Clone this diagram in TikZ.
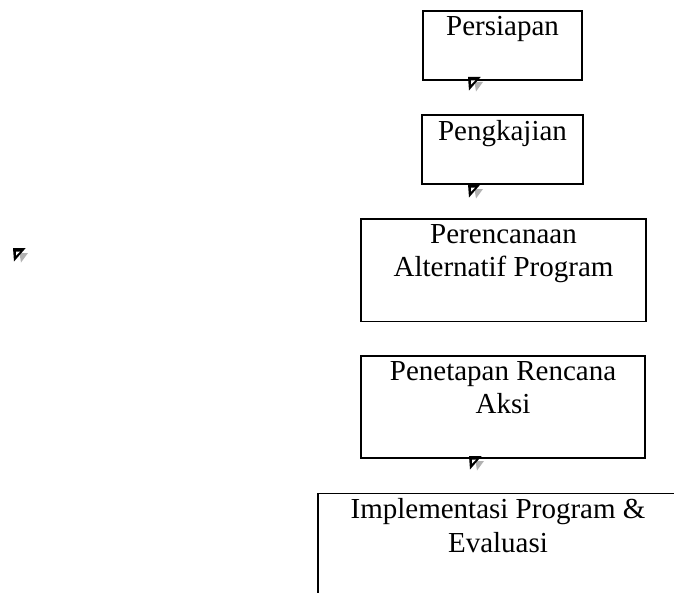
\documentclass[tikz,border=0pt]{standalone}
\usepackage{fontspec}
\setmainfont{Liberation Serif}
\usetikzlibrary{positioning}

\tikzset{
  stepbox/.style={draw, line width=1pt, inner sep=0pt},
  steptext/.style={inner sep=0pt, align=center, font=\fontsize{21.75}{25}\selectfont},
}
% small arrow tip mark, #1 = top left corner
\newcommand{\tipmark}[1]{%
  \fill[black!30, shift={(#1)}] (6.5,5) -- (15,5) -- (8,14.5) -- cycle;
  \fill[shift={(#1)}] (0,0) -- (12.7,0) -- (1,13.5) -- cycle;
  \fill[white, shift={(#1)}] (3,3.5) -- (7,3.5) -- (3.2,7.5) -- cycle;
}

\begin{document}
\begin{tikzpicture}[x=0.75pt,y=0.75pt,yscale=-1,xscale=1]
\useasboundingbox (0,0) rectangle (674,592);
\clip (0,0) rectangle (674,592);

% Boxes
\node[stepbox, minimum width=119.25pt, minimum height=51.75pt] (persiapan) at (502.5,45.5) {};
\node[stepbox, minimum width=120.75pt, minimum height=51.75pt] (pengkajian) at (502.5,149.5) {};
\node[stepbox, minimum width=213.75pt, minimum height=76.9pt] (perencanaan) at (503.5,270.2) {};
\node[stepbox, minimum width=213pt, minimum height=76.5pt] (penetapan) at (503,407) {};
\node[stepbox, minimum width=270pt, minimum height=110pt] (implementasi) at (498,566.5) {};

% Text Nodes
\node[steptext, below=4.5pt of persiapan.north] (persiapan text) {Persiapan};
\node[steptext, below=4.5pt of pengkajian.north] (pengkajian text) {Pengkajian};
\node[steptext, below=4.5pt of perencanaan.north] (perencanaan text) {Perencanaan\\Alternatif Program};
\node[steptext, below=4.5pt of penetapan.north] (penetapan text) {Penetapan Rencana\\Aksi};
\node[steptext, below=4.5pt of implementasi.north] (implementasi text) {Implementasi Program \&\\Evaluasi};

% Tip marks
\coordinate (mark1) at (468,77);
\coordinate (mark2) at (468,184);
\coordinate (mark3) at (469,456);
\coordinate (mark4) at (13,248);
\tipmark{mark1}
\tipmark{mark2}
\tipmark{mark3}
\tipmark{mark4}

\end{tikzpicture}
\end{document}
